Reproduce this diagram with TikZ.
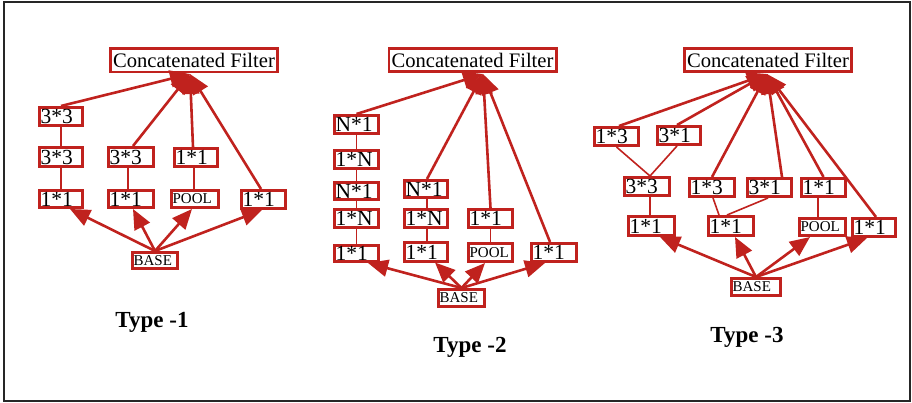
\documentclass[tikz,border=0pt]{standalone}
\usepackage{fontspec}
\setmainfont{Liberation Serif}
\usetikzlibrary{arrows.meta}
\definecolor{dred}{RGB}{192,34,30}
\newcommand{\bigf}{\fontsize{21.5}{21.5}\selectfont}
\newcommand{\cff}{\fontsize{20.6}{20.6}\selectfont}
\newcommand{\smallf}{\fontsize{15}{15}\selectfont}
% left-aligned box: name, cx, cy, w, h, text
\newcommand{\bx}[6]{\node[box, minimum height={#5pt-2.8pt}] (#1) at (#2,#3) {\hbox to \dimexpr#4pt-2.8pt\relax{\hspace{1.2pt}#6\hfil}};}
\newcommand{\cfbox}[3]{\node[box, minimum height=23.2pt] (#1) at (#2,#3) {\hbox to 167.2pt{\hfil\cff Concatenated Filter\hfil}};}
\begin{document}
\begin{tikzpicture}[x=1pt,y=-1pt,
  box/.style={draw=dred, line width=2.8pt, fill=white, inner sep=0pt, font=\bigf},
  arr/.style={draw=dred, line width=2.6pt, -{Triangle[length=20pt,width=17pt]}},
  lnk/.style={draw=dred, line width=1.6pt},
  title/.style={font=\fontsize{23}{23}\selectfont\bfseries, inner sep=0pt}]
\useasboundingbox (0,0) rectangle (912,403);
\draw[line width=2pt, black!85] (4,2) rectangle (910,401);

% ---------- Type 1 ----------
\cfbox{cf1}{194}{60.5}
\coordinate (k1) at (190,74);
\bx{a1}{61}{116.5}{46}{21}{3*3}
\bx{a2}{61}{157}{46}{22}{3*3}
\bx{a3}{61}{199}{46}{20}{1*1}
\bx{b1}{131}{157}{48}{22}{3*3}
\bx{b2}{131}{199}{48}{20}{1*1}
\bx{c1}{196}{157.5}{46}{21}{1*1}
\bx{c2}{195}{199}{50}{20}{\smallf POOL}
\bx{d1}{263.5}{199.5}{47}{21}{1*1}
\bx{base1}{155}{260.5}{48}{19}{\smallf BASE}
\draw[lnk] (a1.south) -- (a2.north);
\draw[lnk] (a2.south) -- (a3.north);
\draw[lnk] (b1.south -| 128,0) -- (b2.north -| 128,0);
\draw[lnk] (c1.south -| 194,0) -- (c2.north -| 194,0);
\draw[arr] (a1.north) -- (k1);
\draw[arr] (b1.north -| 133,0) -- (k1);
\draw[arr] (c1.north -| 193,0) -- (k1);
\draw[arr] (d1.north -| 261,0) -- (k1);
\draw[arr] (base1.north) -- (a3.south -| 70,0);
\draw[arr] (base1.north) -- (b2.south -| 133,0);
\draw[arr] (base1.north) -- (c2.south -| 192,0);
\draw[arr] (base1.north) -- (d1.south -| 262,0);
\node[title, anchor=base] (t1) at (152,327) {Type -1};

% ---------- Type 2 ----------
\cfbox{cf2}{472.5}{60}
\coordinate (k2) at (483,74);
\bx{p1}{356.5}{124.5}{47}{21}{N*1}
\bx{p2}{356.5}{159.5}{47}{21}{1*N}
\bx{p3}{356.5}{191}{47}{20}{N*1}
\bx{p4}{356.5}{218.5}{47}{21}{1*N}
\bx{p5}{356.5}{253.5}{47}{19}{1*1}
\bx{q1}{426}{189}{46}{20}{N*1}
\bx{q2}{426}{218.5}{46}{21}{1*N}
\bx{q3}{426}{252}{46}{21}{1*1}
\bx{r1}{490.5}{218.5}{47}{21}{1*1}
\bx{r2}{490.5}{252.5}{47}{21}{\smallf POOL}
\bx{s1}{554}{252.5}{48}{21}{1*1}
\bx{base2}{461.5}{298}{49}{20}{\smallf BASE}
\draw[lnk] (p1.south) -- (p2.north);
\draw[lnk] (p2.south) -- (p3.north);
\draw[lnk] (p3.south) -- (p4.north);
\draw[lnk] (p4.south) -- (p5.north);
\draw[lnk] (q1.south -| 427,0) -- (q2.north -| 427,0);
\draw[lnk] (q2.south -| 427,0) -- (q3.north -| 427,0);
\draw[lnk] (r1.south) -- (r2.north);
\draw[arr] (p1.north) -- (k2);
\draw[arr] (q1.north -| 427,0) -- (k2);
\draw[arr] (r1.north) -- (k2);
\draw[arr] (s1.north -| 550,0) -- (k2);
\draw[arr] (base2.north) -- (p5.south -| 368,0);
\draw[arr] (base2.north) -- (q3.south -| 435,0);
\draw[arr] (base2.north) -- (r2.south -| 485,0);
\draw[arr] (base2.north) -- (s1.south -| 545,0);
\node[title, anchor=base] (t2) at (470,352) {Type -2};

% ---------- Type 3 ----------
\cfbox{cf3}{768}{60}
\coordinate (k3) at (767,74);
\bx{e1}{616.5}{136.5}{47}{21}{1*3}
\bx{e2}{679}{135.5}{46}{21}{3*1}
\bx{e3}{647}{186.5}{48}{21}{3*3}
\bx{e4}{651.5}{226}{49}{22}{1*1}
\bx{f1}{712}{187.5}{48}{21}{1*3}
\bx{f2}{769.5}{187.5}{47}{21}{3*1}
\bx{f3}{731}{226}{48}{22}{1*1}
\bx{g1}{823.5}{187.5}{47}{21}{1*1}
\bx{g2}{822.5}{227}{49}{20}{\smallf POOL}
\bx{h1}{874}{227.5}{46}{21}{1*1}
\bx{base3}{756}{287}{52}{20}{\smallf BASE}
\draw[lnk] (e1.south) -- (e3.north -| 650,0);
\draw[lnk] (e2.south -| 677,0) -- (e3.north -| 650,0);
\draw[lnk] (e3.south -| 650,0) -- (e4.north -| 650,0);
\draw[lnk] (f1.south -| 713,0) -- (f3.north -| 719,0);
\draw[lnk] (f2.south -| 768,0) -- (f3.north -| 727,0);
\draw[lnk] (g1.south -| 818,0) -- (g2.north -| 818,0);
\draw[arr] (e1.north -| 619,0) -- (k3);
\draw[arr] (e2.north -| 677,0) -- (k3);
\draw[arr] (f1.north) -- (k3);
\draw[arr] (f2.north -| 782,0) -- (k3);
\draw[arr] (g1.north) -- (k3);
\draw[arr] (h1.north -| 876,0) -- (k3);
\draw[arr] (base3.north) -- (e4.south -| 660,0);
\draw[arr] (base3.north) -- (f3.south -| 735,0);
\draw[arr] (base3.north) -- (g2.south -| 810,0);
\draw[arr] (base3.north) -- (h1.south -| 867,0);
\node[title, anchor=base] (t3) at (747,342) {Type -3};
\end{tikzpicture}
\end{document}
